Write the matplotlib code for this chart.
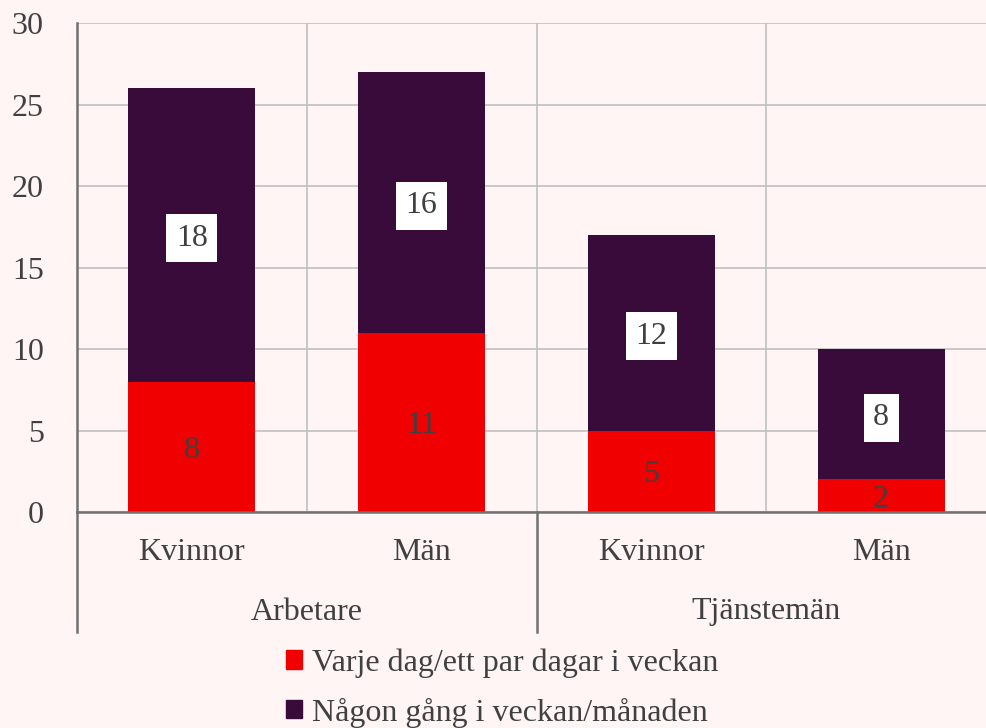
import matplotlib.pyplot as plt
from matplotlib.patches import Patch

# data
groups = ["Arbetare", "Tjänstemän"]
sexes = ["Kvinnor", "Män", "Kvinnor", "Män"]
daily = [8, 11, 5, 2]
weekly = [18, 16, 12, 8]
series_names = ["Varje dag/ett par dagar i veckan", "Någon gång i veckan/månaden"]

RED = "#F00000"
PURPLE = "#380B3A"
BG = "#FFF5F5"
TXT = "#404040"
FS = 23

plt.rcParams["font.family"] = ["Liberation Serif", "DejaVu Serif"]

fig = plt.figure(figsize=(9.86, 7.28), dpi=100, facecolor=BG)
ax = fig.add_axes([77 / 986, 216 / 728, 919 / 986, 489 / 728], facecolor=BG)

x = list(range(len(sexes)))
ppu = 489 / 30  # pixels per unit
ax.bar(x, daily, width=0.553, color=RED, zorder=3)
ax.bar(x, weekly, width=0.553, bottom=daily, color=PURPLE, zorder=3)

for i in x:
    ax.text(i, daily[i] / 2, str(daily[i]), ha="center", va="center_baseline",
            fontsize=FS, color=TXT, zorder=4)
    ax.text(i, daily[i] + weekly[i] / 2, str(weekly[i]), ha="center", va="center_baseline",
            fontsize=FS, color=TXT, zorder=4,
            bbox=dict(boxstyle="square,pad=0.3", fc="white", ec="none"))

ax.set_xlim(-0.5, 3.5)
ax.set_ylim(0, 30)
ax.set_yticks(range(0, 31, 5))
ax.set_xticks([0.5, 1.5, 2.5], minor=False)
ax.set_xticklabels([])
ax.tick_params(axis="both", length=0, labelsize=FS, labelcolor=TXT)
ax.tick_params(axis="y", pad=24)
ax.grid(True, color="#C0C0C0", lw=1.2, zorder=0)

for s in ["top", "right"]:
    ax.spines[s].set_visible(False)
for s in ["left", "bottom"]:
    ax.spines[s].set_color("#707070")
    ax.spines[s].set_linewidth(1.8)
    ax.spines[s].set_zorder(5)

# category labels
for i, lab in enumerate(sexes):
    ax.annotate(lab, (i, 0), xytext=(0, -41), textcoords="offset pixels",
                ha="center", va="center", fontsize=FS, color=TXT, annotation_clip=False)
for j, g in enumerate(groups):
    ax.annotate(g, (j * 2 + 0.5, 0), xytext=(0, -100), textcoords="offset pixels",
                ha="center", va="center", fontsize=FS, color=TXT, annotation_clip=False)
for xs in [-0.5, 1.5, 3.5]:
    ax.plot([xs, xs], [0, -120 / ppu], color="#707070", lw=1.8, clip_on=False, zorder=5)

handles = [Patch(color=RED), Patch(color=PURPLE)]
fig.legend(handles, series_names, loc="center left", bbox_to_anchor=(286 / 986, 40 / 728),
           frameon=False, fontsize=FS, handlelength=0.5, handleheight=0.5,
           handletextpad=0.3, labelspacing=0.62, borderpad=0, borderaxespad=0,
           labelcolor=TXT)

fig.savefig("out.png", dpi=100, facecolor=BG)
